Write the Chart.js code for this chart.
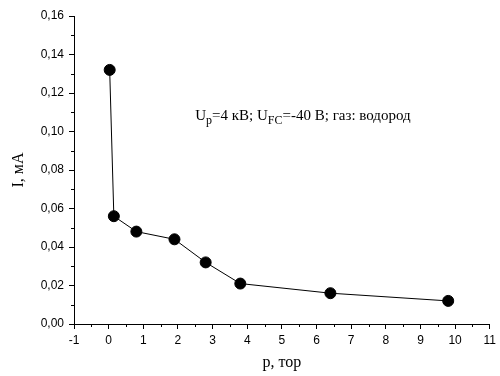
<!DOCTYPE html>
<html>
<head>
<meta charset="utf-8">
<script src="https://cdn.jsdelivr.net/npm/chart.js@4/dist/chart.umd.min.js"></script>
<style>
html,body{margin:0;padding:0;background:#fff;}
#wrap{width:500px;height:376px;position:relative;}
</style>
</head>
<body>
<div id="wrap"><canvas id="c" width="500" height="376"></canvas></div>
<script>
const pressure = [0.03, 0.15, 0.8, 1.9, 2.8, 3.8, 6.4, 9.8];
const current = [0.132, 0.056, 0.048, 0.044, 0.032, 0.021, 0.016, 0.012];
const xTitle = "p, тор";
const yTitle = "I, мА";
const annotationParts = [
  ["U", false], ["p", true], ["=4 кВ; U", false], ["FC", true], ["=-40 В; газ: водород", false]
];
const annotationAt = {x: 2.5, y: 0.106};

const minorTicks = {
  id: 'minorTicks',
  afterDraw(chart) {
    const ctx = chart.ctx;
    const xs = chart.scales.x, ys = chart.scales.y;
    ctx.save();
    ctx.strokeStyle = '#000';
    ctx.lineWidth = 1;
    ctx.beginPath();
    for (let v = -0.5; v < 11; v += 1) {
      const px = Math.round(xs.getPixelForValue(v)) + 0.5;
      ctx.moveTo(px, ys.bottom);
      ctx.lineTo(px, ys.bottom + 3);
    }
    for (let v = 0.01; v < 0.16; v += 0.02) {
      const py = Math.round(ys.getPixelForValue(v)) + 0.5;
      ctx.moveTo(xs.left, py);
      ctx.lineTo(xs.left - 3, py);
    }
    ctx.stroke();
    // annotation
    let x = xs.getPixelForValue(annotationAt.x);
    const y = ys.getPixelForValue(annotationAt.y);
    ctx.fillStyle = '#000';
    ctx.textBaseline = 'alphabetic';
    ctx.textAlign = 'left';
    for (const [t, sub] of annotationParts) {
      ctx.font = sub ? '12px "Liberation Serif"' : '15px "Liberation Serif"';
      ctx.fillText(t, x, sub ? y + 4 : y);
      x += ctx.measureText(t).width;
    }
    ctx.restore();
  }
};

new Chart(document.getElementById('c'), {
  type: 'scatter',
  data: {
    datasets: [{
      data: pressure.map((p, i) => ({x: p, y: current[i]})),
      showLine: true,
      borderColor: '#000',
      borderWidth: 1,
      backgroundColor: '#000',
      pointBackgroundColor: '#000',
      pointBorderColor: '#000',
      pointRadius: 5.5,
      pointHoverRadius: 5.5
    }]
  },
  options: {
    responsive: false,
    animation: false,
    layout: {padding: {top: 16, right: 7, left: 0, bottom: 0}},
    plugins: {legend: {display: false}, tooltip: {enabled: false}},
    scales: {
      x: {
        type: 'linear', min: -1, max: 11,
        afterFit(s) { s.height = 52; },
        ticks: {stepSize: 1, color: '#000', padding: 4, maxRotation: 0,
          font: {family: '"Liberation Sans"', size: 12}},
        grid: {drawOnChartArea: false, drawTicks: true, tickLength: 5, tickColor: '#000'},
        border: {color: '#000', width: 1},
        title: {display: true, text: xTitle, color: '#000',
          font: {family: '"Liberation Serif"', size: 16}, padding: {top: 4, bottom: 4}}
      },
      y: {
        type: 'linear', min: 0, max: 0.16,
        afterFit(s) { s.width = 74; },
        ticks: {stepSize: 0.02, color: '#000', padding: 5,
          font: {family: '"Liberation Sans"', size: 12},
          callback: v => v.toFixed(2).replace('.', ',')},
        grid: {drawOnChartArea: false, drawTicks: true, tickLength: 5, tickColor: '#000'},
        border: {color: '#000', width: 1},
        title: {display: true, text: yTitle, color: '#000',
          font: {family: '"Liberation Serif"', size: 16}, padding: {top: 9, bottom: 4}}
      }
    }
  },
  plugins: [minorTicks]
});
</script>
</body>
</html>
